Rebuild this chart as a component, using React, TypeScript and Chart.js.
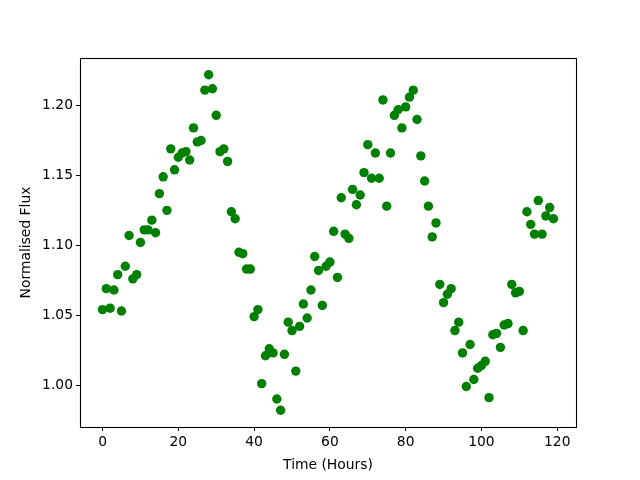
import React, { useEffect, useRef } from "react";
import { Chart, registerables } from "chart.js";

Chart.register(...registerables);

const hours: number[] = [
  0, 1, 2, 3, 4, 5, 6, 7, 8, 9, 10, 11, 12, 13, 14, 15, 16, 17, 18, 19,
  20, 21, 22, 23, 24, 25, 26, 27, 28, 29, 30, 31, 32, 33, 34, 35, 36, 37, 38, 39,
  40, 41, 42, 43, 44, 45, 46, 47, 48, 49, 50, 51, 52, 53, 54, 55, 56, 57, 58, 59,
  60, 61, 62, 63, 64, 65, 66, 67, 68, 69, 70, 71, 72, 73, 74, 75, 76, 77, 78, 79,
  80, 81, 82, 83, 84, 85, 86, 87, 88, 89, 90, 91, 92, 93, 94, 95, 96, 97, 98, 99,
  100, 101, 102, 103, 104, 105, 106, 107, 108, 109, 110, 111, 112, 113, 114, 115, 116, 117, 118, 119,
];

const flux: number[] = [
  1.054, 1.069, 1.055, 1.068, 1.079, 1.053, 1.085, 1.107, 1.076, 1.079,
  1.102, 1.111, 1.111, 1.118, 1.109, 1.137, 1.149, 1.125, 1.169, 1.154,
  1.163, 1.166, 1.167, 1.161, 1.184, 1.174, 1.175, 1.211, 1.222, 1.212,
  1.193, 1.167, 1.169, 1.160, 1.124, 1.119, 1.095, 1.094, 1.083, 1.083,
  1.049, 1.054, 1.001, 1.021, 1.026, 1.023, 0.990, 0.982, 1.022, 1.045,
  1.039, 1.010, 1.042, 1.058, 1.048, 1.068, 1.092, 1.082, 1.057, 1.085,
  1.088, 1.110, 1.077, 1.134, 1.108, 1.105, 1.140, 1.129, 1.136, 1.152,
  1.172, 1.148, 1.166, 1.148, 1.204, 1.128, 1.166, 1.193, 1.197, 1.184,
  1.199, 1.206, 1.211, 1.190, 1.164, 1.146, 1.128, 1.106, 1.116, 1.072,
  1.059, 1.065, 1.069, 1.039, 1.045, 1.023, 0.999, 1.029, 1.004, 1.012,
  1.014, 1.017, 0.991, 1.036, 1.037, 1.027, 1.043, 1.044, 1.072, 1.066,
  1.067, 1.039, 1.124, 1.115, 1.108, 1.132, 1.108, 1.121, 1.127, 1.119,
];

const xTicks: number[] = [0, 20, 40, 60, 80, 100, 120];
const yTicks: number[] = [1.0, 1.05, 1.1, 1.15, 1.2];

const FONT = "'DejaVu Sans', sans-serif";
const FS = 13.89;

const framePlugin = {
  id: "frame",
  afterDraw(chart: any) {
    const { ctx, chartArea } = chart;
    ctx.save();
    ctx.strokeStyle = "#000";
    ctx.lineWidth = 1.1;
    ctx.strokeRect(
      Math.round(chartArea.left) + 0.5,
      Math.round(chartArea.top) + 0.5,
      Math.round(chartArea.right - chartArea.left),
      Math.round(chartArea.bottom - chartArea.top)
    );
    ctx.restore();
  },
};

export default function App() {
  const ref = useRef<HTMLCanvasElement | null>(null);
  useEffect(() => {
    if (!ref.current) return;
    const data = hours.map((h, i) => ({ x: h, y: flux[i] }));
    const chart = new Chart(ref.current, {
      type: "scatter",
      data: {
        datasets: [
          {
            data,
            backgroundColor: "#008000",
            borderColor: "#008000",
            pointRadius: 4.7,
            pointBorderWidth: 0,
            pointHoverRadius: 4.7,
          },
        ],
      },
      options: {
        animation: false,
        responsive: false,
        devicePixelRatio: 1,
        events: [],
        layout: { padding: { top: 58, right: 64, left: 0, bottom: 0 } },
        plugins: {
          legend: { display: false },
          tooltip: { enabled: false },
        },
        scales: {
          x: {
            type: "linear",
            min: -5.95,
            max: 124.95,
            afterBuildTicks: (axis: any) => {
              axis.ticks = xTicks.map((v) => ({ value: v }));
            },
            afterFit: (axis: any) => {
              axis.height = 53;
            },
            grid: {
              display: true,
              drawOnChartArea: false,
              drawTicks: true,
              tickLength: 4,
              color: "#000",
              tickWidth: 1,
            },
            border: { display: false },
            ticks: {
              color: "#000",
              padding: 3,
              maxRotation: 0,
              autoSkip: false,
              font: { family: FONT, size: FS },
              callback: (v: any) => String(v),
            },
            title: {
              display: true,
              text: "Time (Hours)",
              color: "#000",
              font: { family: FONT, size: FS },
              padding: { top: 3, bottom: 6 },
            },
          },
          y: {
            type: "linear",
            min: 0.97,
            max: 1.234,
            afterBuildTicks: (axis: any) => {
              axis.ticks = yTicks.map((v) => ({ value: v }));
            },
            afterFit: (axis: any) => {
              axis.width = 80;
            },
            grid: {
              display: true,
              drawOnChartArea: false,
              drawTicks: true,
              tickLength: 4,
              color: "#000",
              tickWidth: 1,
            },
            border: { display: false },
            ticks: {
              color: "#000",
              padding: 3,
              autoSkip: false,
              font: { family: FONT, size: FS },
              callback: (v: any) => Number(v).toFixed(2),
            },
            title: {
              display: true,
              text: "Normalised Flux",
              color: "#000",
              font: { family: FONT, size: FS },
              padding: { top: 18, bottom: 0 },
            },
          },
        },
      },
      plugins: [framePlugin],
    });
    return () => chart.destroy();
  }, []);

  return (
    <div style={{ position: "absolute", left: 0, top: 0, width: 640, height: 480, background: "#fff" }}>
      <canvas ref={ref} width={640} height={480} style={{ width: 640, height: 480 }} />
    </div>
  );
}
